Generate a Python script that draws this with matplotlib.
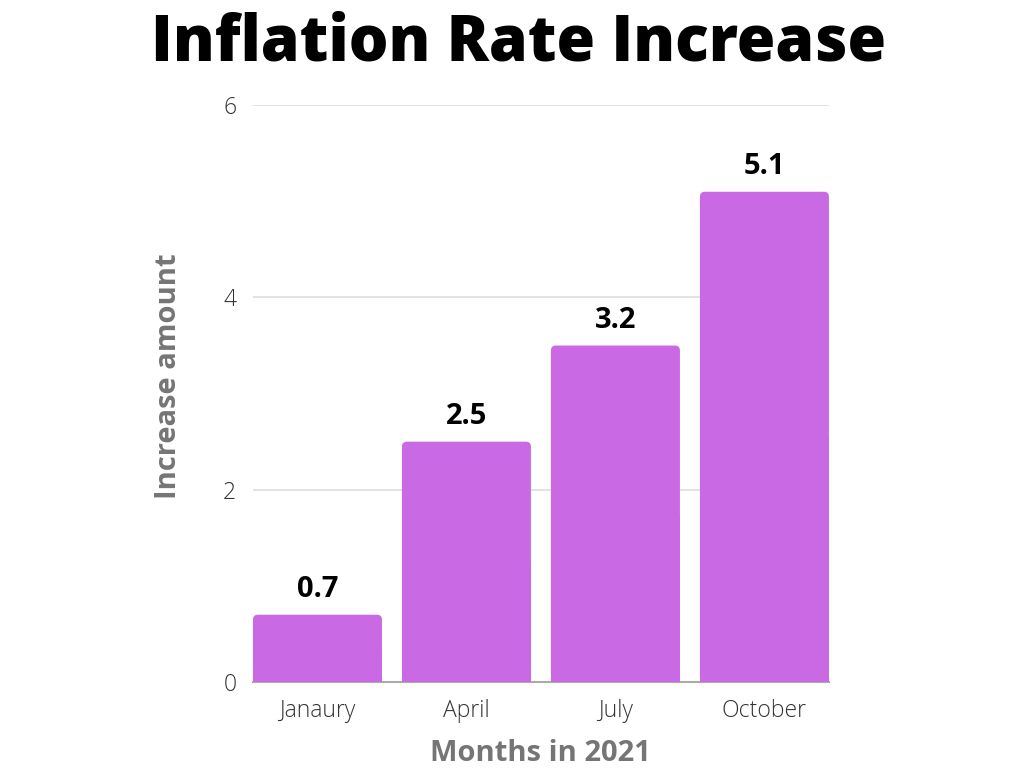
import matplotlib

matplotlib.use("Agg")
import matplotlib.pyplot as plt
from matplotlib.patches import FancyBboxPatch, Rectangle

months = ["Janaury", "April", "July", "October"]
heights = [0.7, 2.5, 3.5, 5.1]
value_labels = ["0.7", "2.5", "3.2", "5.1"]
yticks = [0, 2, 4, 6]

BAR = "#C96AE4"
GRAY = "#757575"

plt.rcParams["font.family"] = ["Open Sans", "DejaVu Sans"]

fig = plt.figure(figsize=(10.24, 7.68), dpi=100)
ax = fig.add_axes([0.247, 0.112, 0.5625, 0.751])

width = 0.866
x_px_per_unit = 149.0
y_px_per_unit = 96.2
aspect = x_px_per_unit / y_px_per_unit
r = 5 / x_px_per_unit

for i, (h, lab) in enumerate(zip(heights, value_labels)):
    x0 = i - width / 2
    ax.add_patch(FancyBboxPatch((x0, 0), width, h,
                                boxstyle=f"round,pad=0,rounding_size={r}",
                                mutation_aspect=aspect, fc=BAR, ec="none", zorder=3))
    ax.add_patch(Rectangle((x0, 0), width, h / 2, fc=BAR, ec="none", zorder=3))
    ax.text(i, h + 0.11, lab, ha="center", va="bottom", fontsize=21,
            fontweight="bold", color="black", zorder=4)

ax.set_xlim(-width / 2, len(months) - 1 + width / 2)
ax.set_ylim(0, 6)
ax.set_yticks(yticks)
ax.set_xticks(range(len(months)))
ax.set_xticklabels(months)
ax.grid(True, axis="y", color="#DDDDDD", lw=1.2, zorder=0)
for s in ["top", "right", "left"]:
    ax.spines[s].set_visible(False)
ax.spines["bottom"].set_color("#AAAAAA")
ax.spines["bottom"].set_linewidth(1.5)
ax.tick_params(axis="both", length=0, labelsize=16.5, labelcolor="#333333")
ax.tick_params(axis="y", pad=12)
ax.tick_params(axis="x", pad=12)
for t in ax.get_xticklabels() + ax.get_yticklabels():
    t.set_fontweight("light")

ax.set_ylabel("Increase amount", fontsize=21, fontweight="bold", color=GRAY, va="center")
ax.yaxis.set_label_coords(-0.146, 0.53)
ax.set_xlabel("Months in 2021", fontsize=21, fontweight="bold", color=GRAY, va="center")
ax.xaxis.set_label_coords(0.5, -0.124)

fig.text(0.506, 0.943, "Inflation Rate Increase", ha="center", va="center",
         fontsize=45, fontweight="heavy", color="black")

fig.savefig("out.png", dpi=100)
